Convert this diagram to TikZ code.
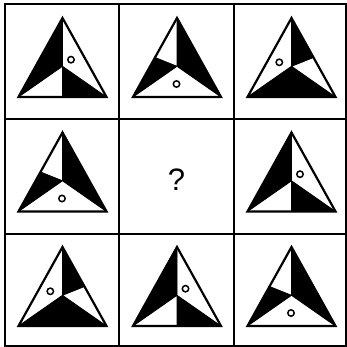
\documentclass[tikz,border=0pt]{standalone}
\usepackage{fontspec}
\setmainfont{Liberation Sans}
\begin{document}
\begin{tikzpicture}[x=1pt,y=-1pt,
  outline/.style={line width=2.2pt, line join=miter},
  inner/.style={line width=0.8pt},
  ring/.style={line width=1.5pt, fill=white},
  gridline/.style={line width=2pt},
  tricoords/.pic={
    \coordinate (A) at (58,13.5);
    \coordinate (L) at (14,92.5);
    \coordinate (R) at (102,92.5);
    \coordinate (O) at (58,61.8);
    \coordinate (Mb) at (58,92.5);
    \coordinate (Ml) at (36,53);
    \coordinate (Mr) at (80,53);
  },
  typeone/.pic={
    \pic {tricoords};
    \fill (A)--(L)--(O)--cycle;
    \fill (Mb)--(R)--(O)--cycle;
    \draw[inner] (O)--(A) (O)--(L) (O)--(R) (O)--(Mb);
    \draw[ring] (66.5,55.2) circle (3.2);
    \draw[outline] (A)--(L)--(R)--cycle;
  },
  typetwo/.pic={
    \pic {tricoords};
    \fill (Ml)--(L)--(O)--cycle;
    \fill (R)--(A)--(O)--cycle;
    \draw[inner] (O)--(A) (O)--(L) (O)--(R) (O)--(Ml);
    \draw[ring] (57.5,79.5) circle (3.2);
    \draw[outline] (A)--(L)--(R)--cycle;
  },
  typethree/.pic={
    \pic {tricoords};
    \fill (A)--(Mr)--(O)--cycle;
    \fill (L)--(R)--(O)--cycle;
    \draw[inner] (O)--(A) (O)--(L) (O)--(R) (O)--(Mr);
    \draw[ring] (45.8,57.8) circle (3.2);
    \draw[outline] (A)--(L)--(R)--cycle;
  }]
\useasboundingbox (0,0) rectangle (347,347);
% row 1
\pic at (4.5,4.5) {typeone};
\pic at (119,4.5) {typetwo};
\pic at (233.5,4.5) {typethree};
% row 2
\pic at (4.5,119) {typetwo};
\node[font=\fontsize{31}{31}\selectfont] (q) at (176.5,180) {?};
\pic at (233.5,119) {typeone};
% row 3
\pic at (4.5,233.5) {typethree};
\pic at (119,233.5) {typeone};
\pic at (233.5,233.5) {typetwo};
% grid
\draw[gridline] (4.5,4.5) rectangle (345.5,345.5);
\draw[gridline] (119,4.5) -- (119,345.5) (233.5,4.5) -- (233.5,345.5)
  (4.5,119) -- (345.5,119) (4.5,233.5) -- (345.5,233.5);
\end{tikzpicture}
\end{document}
